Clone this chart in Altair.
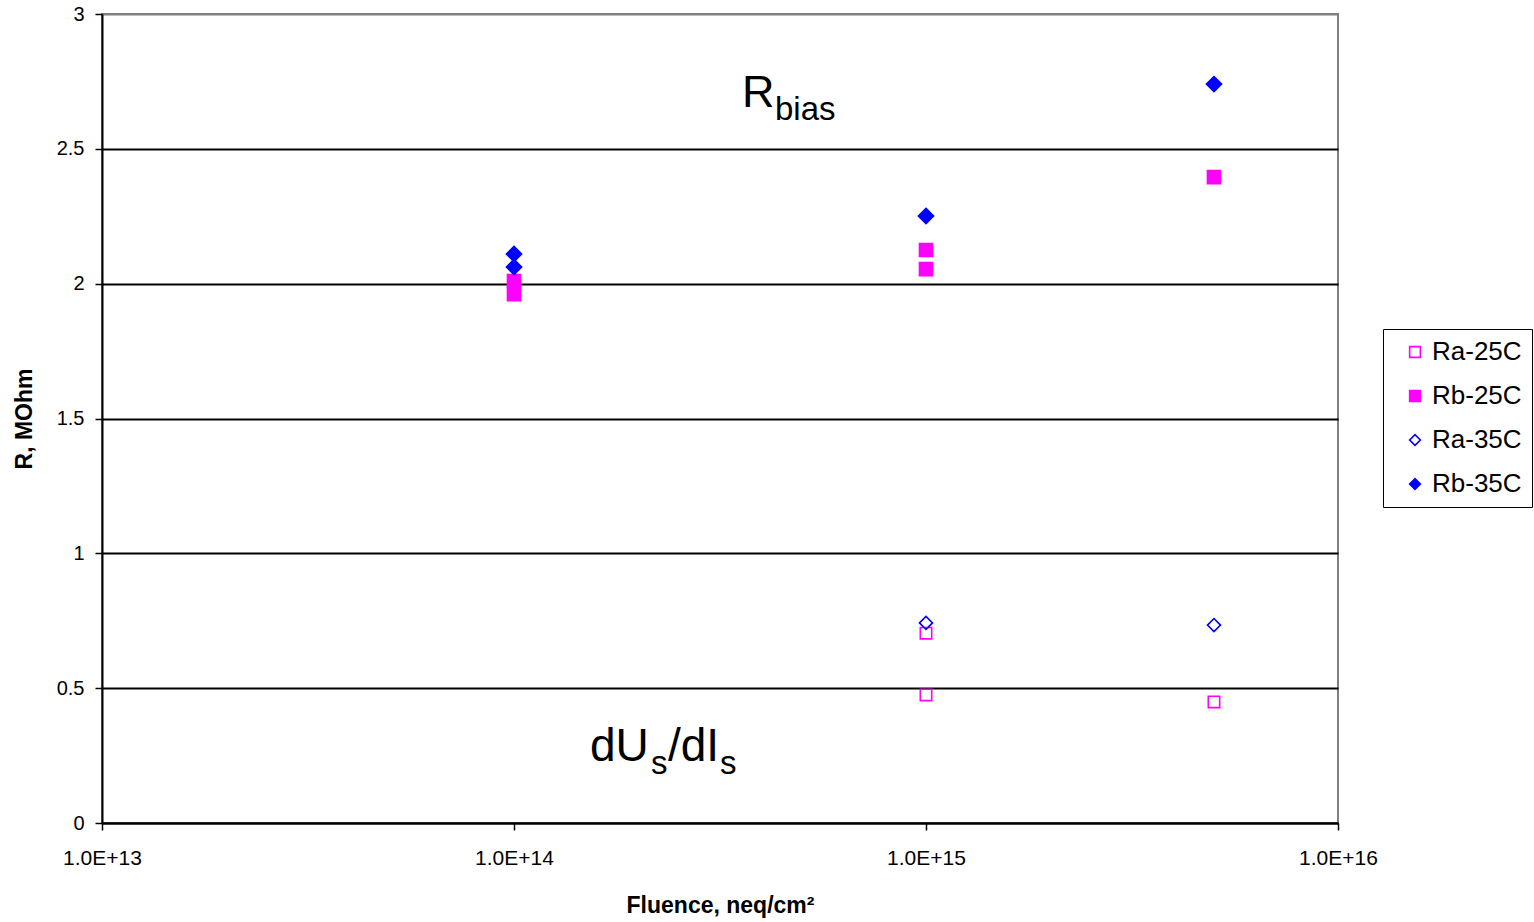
import altair as alt
import pandas as pd

# ---- data ----
series_names = ["Ra-25C", "Rb-25C", "Ra-35C", "Rb-35C"]

ra25_x = [1e15, 1e15, 5e15]
ra25_y = [0.704, 0.475, 0.449]

rb25_x = [1e14, 1e14, 1e15, 1e15, 5e15]
rb25_y = [2.010, 1.961, 2.125, 2.054, 2.395]

ra35_x = [1e15, 5e15]
ra35_y = [0.742, 0.734]

rb35_x = [1e14, 1e14, 1e15, 5e15]
rb35_y = [2.110, 2.062, 2.251, 2.740]

x_ticks = [1e13, 1e14, 1e15, 1e16]
y_ticks = [0, 0.5, 1, 1.5, 2, 2.5, 3]

stroke_colors = ["#FF00FF", "#FF00FF", "#0000FF", "#0000FF"]
fill_colors = ["transparent", "#FF00FF", "transparent", "#0000FF"]
shapes = ["square", "square", "diamond", "diamond"]
sizes = [130, 170, 170, 230]

FONT = "Liberation Sans"

x_enc = alt.X(
    "fluence:Q",
    scale=alt.Scale(type="log", domain=[1e13, 1e16], nice=False),
    axis=alt.Axis(
        values=x_ticks,
        labelExpr="'1.0E+' + format(log(datum.value)/LN10, '.0f')",
        title="Fluence, neq/cm²",
        grid=False,
        labelFlush=False,
        domainColor="black",
        domainWidth=2,
        tickColor="black",
        tickWidth=1.5,
        tickSize=7,
        labelFontSize=21,
        labelFont=FONT,
        labelColor="black",
        labelPadding=17,
        titleFontSize=23,
        titleFont=FONT,
        titleFontWeight="bold",
        titleColor="black",
        titlePadding=26,
    ),
)
y_enc = alt.Y(
    "r:Q",
    scale=alt.Scale(domain=[0, 3], nice=False),
    axis=alt.Axis(
        values=y_ticks,
        format="~g",
        title="R, MOhm",
        grid=True,
        gridColor={"condition": {"test": "datum.value >= 3", "value": "#808080"}, "value": "black"},
        gridWidth=2,
        domainColor="black",
        domainWidth=2,
        tickColor="black",
        tickWidth=1.5,
        tickSize=7,
        labelFontSize=20,
        labelFont=FONT,
        labelColor="black",
        labelPadding=11,
        titleFontSize=23,
        titleFont=FONT,
        titleFontWeight="bold",
        titleColor="black",
        titlePadding=20,
    ),
)

shape_scale = alt.Scale(domain=series_names, range=shapes)
stroke_scale = alt.Scale(domain=series_names, range=stroke_colors)
fill_scale = alt.Scale(domain=series_names, range=fill_colors)

layers = []
for name, xs, ys, sz in zip(series_names,
                            [ra25_x, rb25_x, ra35_x, rb35_x],
                            [ra25_y, rb25_y, ra35_y, rb35_y],
                            sizes):
    d = pd.DataFrame({"series": [name] * len(xs), "fluence": xs, "r": ys})
    layers.append(
        alt.Chart(d).mark_point(strokeWidth=1.6, opacity=1, size=sz).encode(
            x=x_enc,
            y=y_enc,
            shape=alt.Shape("series:N", scale=shape_scale, title=None),
            stroke=alt.Stroke("series:N", scale=stroke_scale, title=None),
            fill=alt.Fill("series:N", scale=fill_scale, title=None),
        )
    )

one = pd.DataFrame({"a": [0]})

def label(text, px, py, size):
    return alt.Chart(one).mark_text(
        text=text, font=FONT, fontSize=size, align="left", baseline="alphabetic", color="black"
    ).encode(x=alt.value(px), y=alt.value(py))

annotations = [
    label("R", 640, 93, 45),
    label("bias", 673, 106, 33),
    label("dU", 488, 747, 46),
    label("s", 549, 760, 33),
    label("/dI", 566, 747, 46),
    label("s", 618, 760, 33),
]

chart = alt.layer(*layers, *annotations).properties(
    width=1236,
    height=809,
    padding={"left": 102, "top": 14, "right": 196, "bottom": 99},
    autosize=alt.AutoSizeParams(type="none"),
    background="white",
).configure_view(
    stroke="#808080", strokeWidth=2
).configure_legend(
    orient="none",
    legendX=1281,
    legendY=315,
    strokeColor="black",
    padding=10,
    labelFontSize=26,
    labelFont=FONT,
    labelColor="black",
    rowPadding=18,
    labelOffset=4,
    symbolOffset=9,
    symbolStrokeWidth=1.6,
    symbolSize=115,
)

chart.save("out.html", embed_options={"renderer": "svg", "actions": False})
